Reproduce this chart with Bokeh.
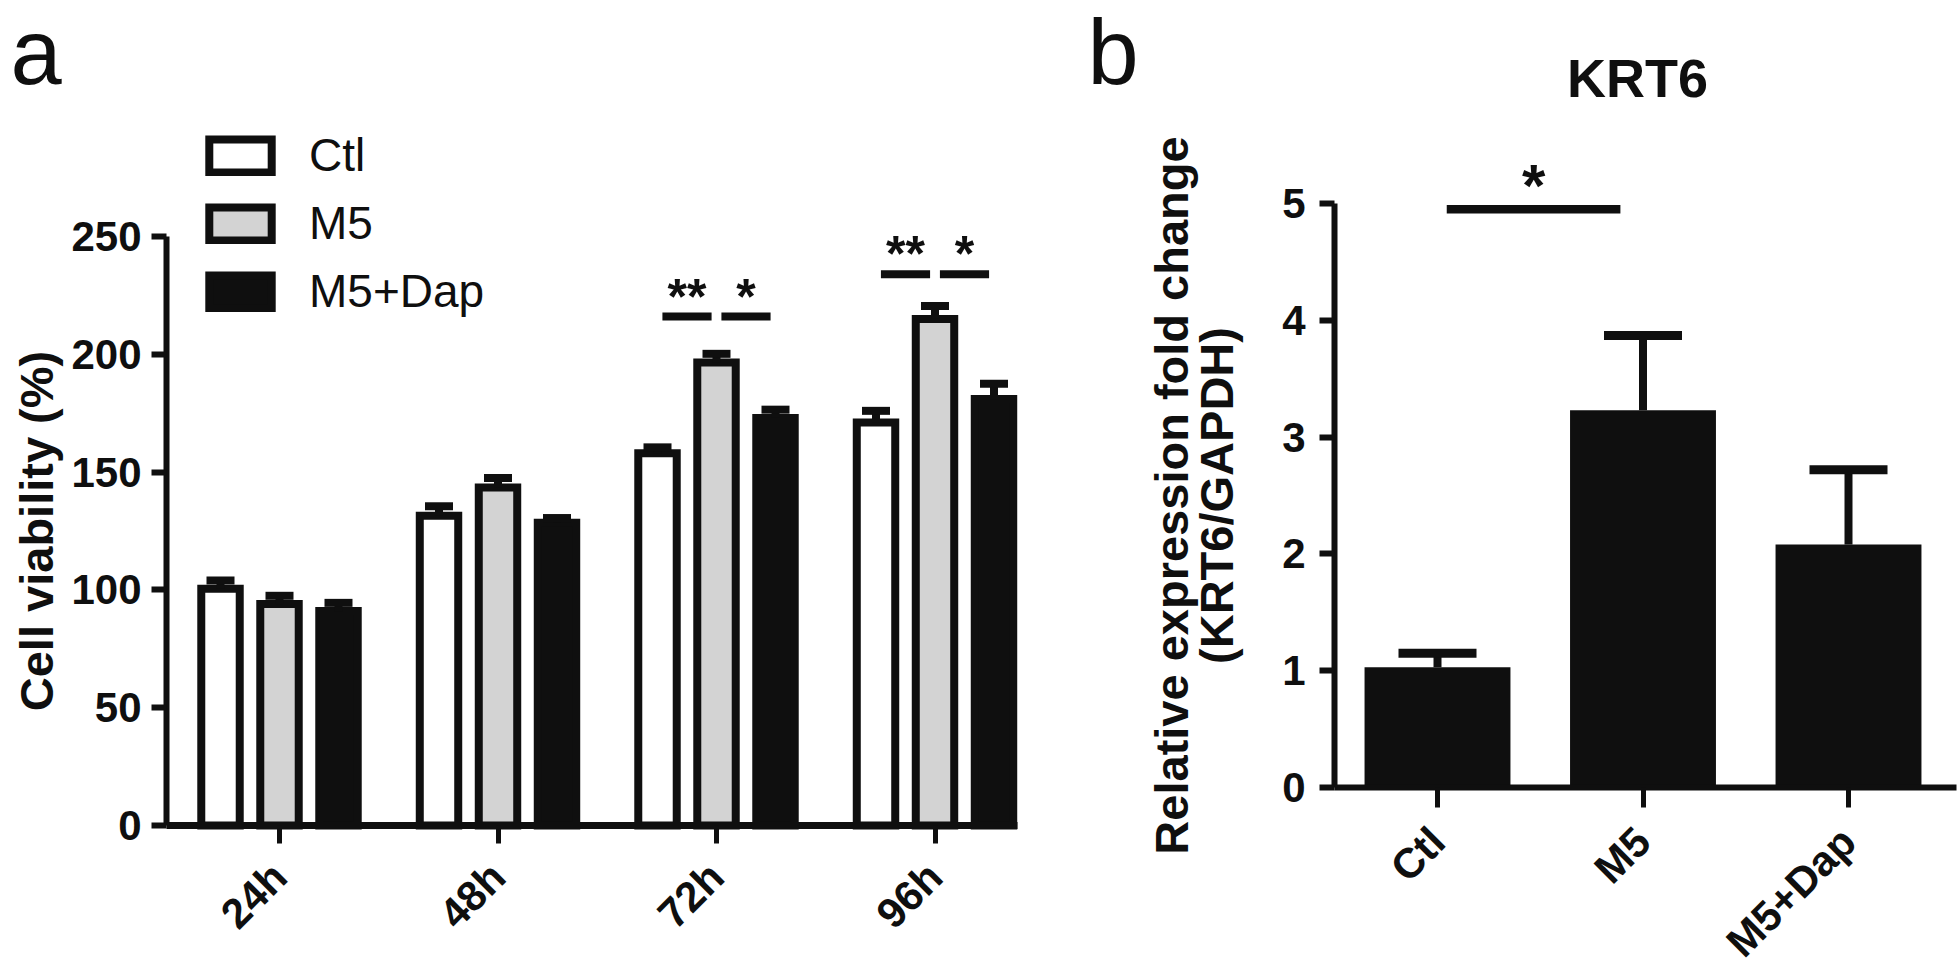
import math
from bokeh.plotting import figure
from bokeh.models import (ColumnDataSource, Whisker, TeeHead, Legend, LegendItem,
                          FixedTicker, Range1d)
from bokeh.layouts import row
from bokeh.embed import file_html
from bokeh.resources import INLINE
from bokeh.core.properties import value

# ---------------- data: panel a ----------------
timepoints = ["24h", "48h", "72h", "96h"]
groups = ["Ctl", "M5", "M5+Dap"]
ctl_mean = [100.5, 131.5, 158.0, 171.0]
ctl_sem = [3.5, 4.0, 2.5, 5.0]
m5_mean = [94.0, 143.5, 196.5, 215.0]
m5_sem = [3.5, 4.0, 3.7, 5.5]
dap_mean = [91.0, 128.5, 173.0, 181.0]
dap_sem = [3.5, 2.0, 3.5, 6.5]
yticks_a = [0, 50, 100, 150, 200, 250]
sig_a_group = [2, 2, 3, 3]
sig_a_from = [0, 1, 0, 1]
sig_a_to = [1, 2, 1, 2]
sig_a_height = [216, 216, 234, 234]
sig_a_text = ["**", "*", "**", "*"]

# ---------------- data: panel b ----------------
krt6_groups = ["Ctl", "M5", "M5+Dap"]
krt6_mean = [1.03, 3.23, 2.08]
krt6_sem = [0.12, 0.64, 0.64]
yticks_b = [0, 1, 2, 3, 4, 5]
sig_b_from = [0]
sig_b_to = [1]
sig_b_height = [4.95]
sig_b_text = ["*"]

BLACK = "#0f0f0f"
FILLS = ["white", "#d3d3d3", BLACK]
ARIAL = "Liberation Sans"
W, H = 1960, 967
SPLIT = 1030
BASE_SHIFT = 0.36   # text anchor correction (fraction of font size)
LETTER = 92         # panel letter font size (px)


def style_common(p):
    p.outline_line_color = None
    p.xgrid.visible = False
    p.ygrid.visible = False
    p.background_fill_color = "white"
    p.border_fill_color = "white"


def style_axis(ax, tick_out, label_size="42px"):
    ax.axis_line_width = 6
    ax.axis_line_color = BLACK
    ax.major_tick_line_width = 6
    ax.major_tick_line_color = BLACK
    ax.major_tick_out = tick_out
    ax.major_tick_in = 0
    ax.minor_tick_line_color = None
    ax.major_label_text_font = ARIAL
    ax.major_label_text_font_style = "bold"
    ax.major_label_text_font_size = label_size
    ax.major_label_text_color = BLACK


# ================= panel a =================
A_base = 825                  # pixel row of y = 0
A_axis_x, A_axis_end = 166, 1017
ppu_a = (825 - 236) / 250.0
gpx, g0 = 218.5, 279.0


def ax_(px):
    return (px - g0) / gpx


def ay_(py):
    return (A_base - py) / ppu_a


offsets = [-0.27, 0.0, 0.27]
bar_w = 0.176

pA = figure(frame_width=SPLIT, frame_height=H,
            min_border_left=0, min_border_right=0, min_border_top=0, min_border_bottom=0,
            x_range=Range1d(ax_(0), ax_(SPLIT)), y_range=Range1d(ay_(H), ay_(0)),
            output_backend="svg", toolbar_location=None)
style_common(pA)

ya = pA.yaxis[0]
ya.ticker = FixedTicker(ticks=yticks_a)
ya.bounds = (yticks_a[0], yticks_a[-1])
ya.fixed_location = ax_(A_axis_x)
style_axis(ya, 15)
ya.major_label_standoff = 10

xa = pA.xaxis[0]
xa.ticker = FixedTicker(ticks=list(range(len(timepoints))))
xa.major_label_overrides = {i: t for i, t in enumerate(timepoints)}
xa.major_label_orientation = math.pi / 4
xa.bounds = (ax_(A_axis_x), ax_(A_axis_end))
xa.fixed_location = 0
style_axis(xa, 18)
xa.axis_line_width = 7
xa.major_tick_line_width = 5
xa.major_label_standoff = 26

series = [(ctl_mean, ctl_sem), (m5_mean, m5_sem), (dap_mean, dap_sem)]
items = []
for k, (name, (mean, sem)) in enumerate(zip(groups, series)):
    xs = [i + offsets[k] for i in range(len(timepoints))]
    src = ColumnDataSource(dict(x=xs, top=mean, upper=[m + s for m, s in zip(mean, sem)]))
    r = pA.vbar(x="x", top="top", bottom=0, width=bar_w, source=src,
                fill_color=FILLS[k], line_color=BLACK, line_width=8, line_join="miter")
    w = Whisker(source=src, base="x", lower="top", upper="upper", dimension="height",
                line_color=BLACK, line_width=8, level="annotation",
                upper_head=TeeHead(size=28, line_width=8, line_color=BLACK), lower_head=None)
    pA.add_layout(w)
    items.append(LegendItem(label=name, renderers=[r]))

leg = Legend(items=items, location=(201, H - 318), glyph_width=78, glyph_height=41,
             label_standoff=30, spacing=14, padding=0, margin=0,
             border_line_color=None, background_fill_alpha=0,
             label_text_font=ARIAL, label_text_font_size="46px", label_text_color=BLACK)
pA.add_layout(leg)

gap = 0.0225
sa_x0 = [g + offsets[i] + gap for g, i in zip(sig_a_group, sig_a_from)]
sa_x1 = [g + offsets[j] - gap for g, j in zip(sig_a_group, sig_a_to)]
pA.segment(x0=sa_x0, y0=sig_a_height, x1=sa_x1, y1=sig_a_height, line_width=8, line_color=BLACK)
pA.text(x=[(a + b) / 2 for a, b in zip(sa_x0, sa_x1)], y=sig_a_height, text=sig_a_text,
        text_align="center", text_baseline="alphabetic", y_offset=-20,
        text_font=value(ARIAL), text_font_style="bold", text_font_size="50px", text_color=BLACK)

# y-axis title (centred on the axis extent) and panel letter
pA.text(x=[ax_(53 - BASE_SHIFT * 47)], y=[(yticks_a[0] + yticks_a[-1]) / 2],
        text=["Cell viability (%)"],
        angle=math.pi / 2, text_align="center", text_baseline="alphabetic",
        text_font=value(ARIAL), text_font_style="bold", text_font_size="47px", text_color=BLACK)
pA.text(x=[ax_(10)], y=[ay_(85 - BASE_SHIFT * LETTER)], text=["a"], text_align="left",
        text_baseline="alphabetic",
        text_font=value(ARIAL), text_font_size=f"{LETTER}px", text_color=BLACK)

# ================= panel b =================
B_base = 787
B_axis_x, B_axis_end = 1334, 1956
ppu_b = (787 - 203) / 5.0
cpx, c0 = 205.5, 1437.0


def bx_(px):
    return (px - c0) / cpx


def by_(py):
    return (B_base - py) / ppu_b


pB = figure(frame_width=W - SPLIT, frame_height=H,
            min_border_left=0, min_border_right=0, min_border_top=0, min_border_bottom=0,
            x_range=Range1d(bx_(SPLIT), bx_(W)), y_range=Range1d(by_(H), by_(0)),
            output_backend="svg", toolbar_location=None)
style_common(pB)

yb = pB.yaxis[0]
yb.ticker = FixedTicker(ticks=yticks_b)
yb.bounds = (yticks_b[0], yticks_b[-1])
yb.fixed_location = bx_(B_axis_x)
style_axis(yb, 15)
yb.major_label_standoff = 14

xb = pB.xaxis[0]
xb.ticker = FixedTicker(ticks=list(range(len(krt6_groups))))
xb.major_label_overrides = {i: t for i, t in enumerate(krt6_groups)}
xb.major_label_orientation = math.pi / 4
xb.bounds = (bx_(B_axis_x), bx_(B_axis_end))
xb.fixed_location = 0
style_axis(xb, 20)
xb.major_tick_line_width = 5
xb.major_label_standoff = 27

srcb = ColumnDataSource(dict(x=list(range(len(krt6_groups))), top=krt6_mean,
                             upper=[m + s for m, s in zip(krt6_mean, krt6_sem)]))
pB.vbar(x="x", top="top", bottom=0, width=0.71, source=srcb,
        fill_color=BLACK, line_color=None)
pB.add_layout(Whisker(source=srcb, base="x", lower="top", upper="upper", dimension="height",
                      line_color=BLACK, line_width=8, level="annotation",
                      upper_head=TeeHead(size=78, line_width=9, line_color=BLACK), lower_head=None))

sb_x0 = [i + 0.045 for i in sig_b_from]
sb_x1 = [j - 0.11 for j in sig_b_to]
pB.segment(x0=sb_x0, y0=sig_b_height, x1=sb_x1, y1=sig_b_height, line_width=8.5, line_color=BLACK)
pB.text(x=[(a + b) / 2 for a, b in zip(sb_x0, sb_x1)], y=sig_b_height, text=sig_b_text,
        text_align="center", text_baseline="alphabetic", y_offset=-24,
        text_font=value(ARIAL), text_font_style="bold", text_font_size="60px", text_color=BLACK)

mid_b = (yticks_b[0] + yticks_b[-1]) / 2
pB.text(x=[bx_(1188 - BASE_SHIFT * 47), bx_(1233 - BASE_SHIFT * 47)], y=[mid_b, mid_b],
        text=["Relative expression fold change", "(KRT6/GAPDH)"],
        angle=math.pi / 2, text_align="center", text_baseline="alphabetic",
        text_font=value(ARIAL), text_font_style="bold", text_font_size="47px", text_color=BLACK)
pB.text(x=[bx_(1637)], y=[by_(97 - BASE_SHIFT * 54)], text=["KRT6"], text_align="center",
        text_baseline="alphabetic", text_font=value(ARIAL), text_font_style="bold",
        text_font_size="54px", text_color=BLACK)
pB.text(x=[bx_(1087)], y=[by_(85 - BASE_SHIFT * LETTER)], text=["b"], text_align="left",
        text_baseline="alphabetic",
        text_font=value(ARIAL), text_font_size=f"{LETTER}px", text_color=BLACK)

layout = row(pA, pB)
open("out.html", "w").write(file_html(layout, INLINE))
